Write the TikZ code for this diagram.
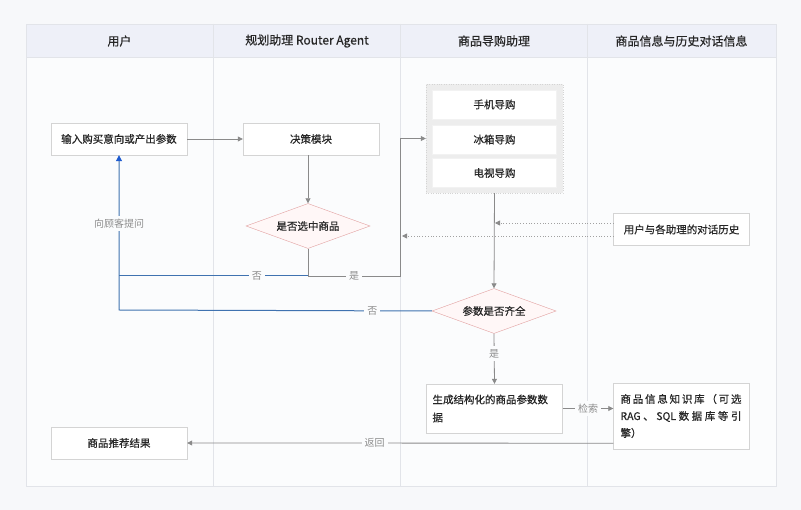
\documentclass[tikz,border=0pt]{standalone}
\usepackage{fontspec}
\setmainfont{Noto Sans CJK SC}
\newfontfamily\bfnt{Noto Sans CJK SC}[FakeBold=0.6]
\usetikzlibrary{shapes.geometric,arrows.meta}
\definecolor{pagebg}{HTML}{F7F8FA}
\definecolor{lanebg}{HTML}{FBFCFD}
\definecolor{headbg}{HTML}{EEF0F8}
\definecolor{framec}{HTML}{E2E4E9}
\definecolor{boxline}{HTML}{D4D4D4}
\definecolor{arrowc}{HTML}{8A8A8A}
\definecolor{bluel}{HTML}{3F72B0}
\definecolor{bluetip}{HTML}{1E5BD0}
\definecolor{diaf}{HTML}{FFF7F7}
\definecolor{diad}{HTML}{E2A0A0}
\definecolor{txt}{HTML}{262626}
\definecolor{lbl}{HTML}{8C8C8C}
\definecolor{grpf}{HTML}{EDEDED}
\tikzset{
  box/.style={draw=boxline, fill=white, minimum width=136pt, minimum height=32pt, inner sep=0pt,
    font=\bfnt\fontsize{10.5}{13}\selectfont, text=txt},
  dia/.style={shape=diamond, draw=diad, fill=diaf, minimum width=124pt, minimum height=45pt,
    inner sep=0pt, aspect=2.7, font=\bfnt\fontsize{10.5}{13}\selectfont, text=txt},
  inbox/.style={fill=white, draw=grpf!70!white, minimum width=124pt, minimum height=29pt,
    font=\bfnt\fontsize{10.5}{13}\selectfont, text=txt},
  grpbox/.style={draw=boxline, dotted, fill=grpf, minimum width=137pt, minimum height=109pt},
  head/.style={font=\bfnt\fontsize{12}{14}\selectfont, text=txt},
  lab/.style={font=\fontsize{10}{12}\selectfont, text=lbl, fill=lanebg, inner sep=3pt},
  garrow/.style={draw=arrowc, line width=0.8pt, -{Triangle[width=5pt,length=5pt]}},
  gline/.style={draw=arrowc, line width=0.8pt},
  bline/.style={draw=bluel, line width=1pt},
  barrow/.style={draw=bluel, line width=1pt, -{Triangle[width=6pt,length=6pt,color=bluetip,fill=bluetip]}},
  darrow/.style={draw=arrowc!80!white, line width=0.8pt, dotted, -{Triangle[width=5pt,length=5pt,color=arrowc,fill=arrowc]}},
}
\newcommand{\spreadline}[1]{\leavevmode\hbox to 121pt{#1}}
\begin{document}
\begin{tikzpicture}[x=1pt, y=-1pt]
\useasboundingbox (0,0) rectangle (801,510);
\fill[pagebg] (0,0) rectangle (801,510);
% lanes
\fill[lanebg] (26,24) rectangle (776,486);
\fill[headbg] (26,24) rectangle (776,57);
\draw[framec] (26,24) rectangle (776,486);
\draw[framec] (26,57) -- (776,57);
\foreach \x in {213.5,400.5,587.5} \draw[framec] (\x,24) -- (\x,486);
\node[head] (h1) at (119.5,41) {用户};
\node[head] (h2) at (307,41) {规划助理 Router Agent};
\node[head] (h3) at (494,41) {商品导购助理};
\node[head] (h4) at (681.5,41) {商品信息与历史对话信息};

% nodes
\node[box] (input) at (119,139) {输入购买意向或产出参数};
\node[box] (decide) at (311,139) {决策模块};
\node[dia] (d1) at (308,226) {是否选中商品};
\node[grpbox] (grp) at (494.5,138.5) {};
\node[inbox] (g1) at (494.5,104.5) {手机导购};
\node[inbox] (g2) at (494.5,139.5) {冰箱导购};
\node[inbox] (g3) at (494.5,173) {电视导购};
\node[box] (hist) at (681.5,229.5) {用户与各助理的对话历史};
\node[dia] (d2) at (494,311) {参数是否齐全};
\node[box, minimum height=49pt, text width=124pt, align=left,
      font=\bfnt\fontsize{10.5}{18}\selectfont] (gen) at (494.5,408.5) {生成结构化的商品参数数\\据};
\node[box, minimum height=66pt, text width=122pt, align=left,
      font=\bfnt\fontsize{10.5}{17}\selectfont] (know) at (681.5,416)
  {\spreadline{商\hfill 品\hfill 信\hfill 息\hfill 知\hfill 识\hfill 库\hfill （\hfill 可\hfill 选}\\
   \spreadline{RAG\hfill 、\hfill SQL\hfill 数\hfill 据\hfill 库\hfill 等\hfill 引}\\擎）};
\node[box] (rec) at (119,443) {商品推荐结果};

\coordinate (j1) at (308,276);
\coordinate (c1) at (119,276);
\coordinate (c2) at (119,310);
\coordinate (c3) at (400,276);
\coordinate (t1) at (495,223);
\coordinate (t2) at (402,236);

% connectors
\draw[garrow] (input.east) -- (decide.west);
\draw[garrow] (decide.south -| d1.north) -- (d1.north);
\draw[gline] (d1.south) -- (j1);
\draw[bline] (j1) -- node[lab, pos=0.27] {否} (c1);
\draw[garrow] (j1) -- node[lab, pos=0.5] {是} (c3) |- (grp.west);
\draw[barrow] (d2.west) -- node[lab, pos=0.19] {否} (c2) -- node[lab, pos=0.56] {向顾客提问} (input.south);
\draw[garrow] (grp.south) -- (d2.north);
\draw[darrow] ([yshift=6.5pt]hist.west) -- (t1);
\draw[darrow] ([yshift=-6.5pt]hist.west) -- (t2);
\draw[garrow] (d2.south) -- node[lab, pos=0.4] {是} (gen.north);
\draw[garrow] (gen.east) -- node[lab] {检索} (gen.east -| know.west);
\draw[garrow] ([yshift=6pt]know.south west) -- node[lab, pos=0.56] {返回} (rec.east);
\end{tikzpicture}
\end{document}
